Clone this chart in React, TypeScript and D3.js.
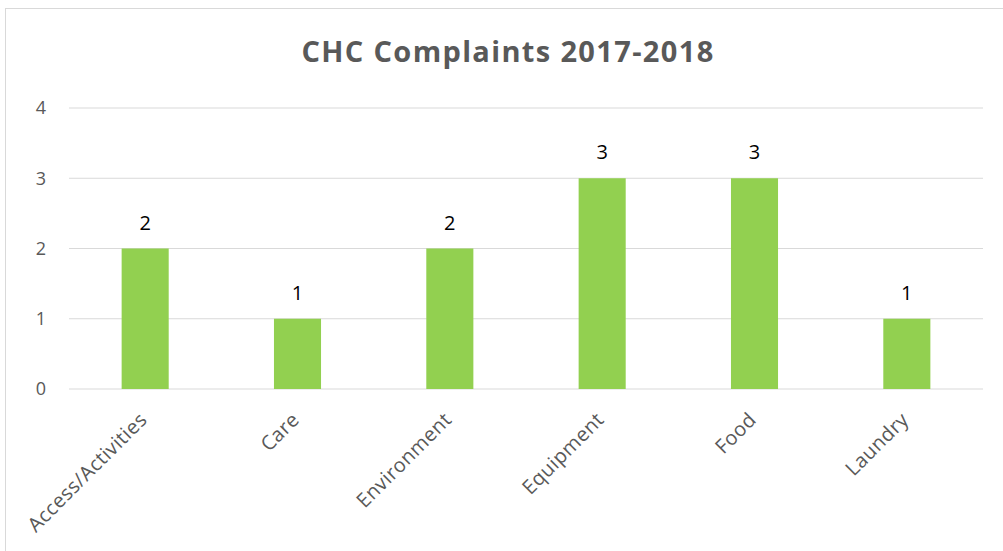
import React from "react";
import * as d3 from "d3";

const categories = ["Access/Activities", "Care", "Environment", "Equipment", "Food", "Laundry"];
const values = [2, 1, 2, 3, 3, 1];
const yTicks = [0, 1, 2, 3, 4];
const title = "CHC Complaints 2017-2018";

export default function App() {
  const W = 1003;
  const H = 551;
  const x = d3
    .scaleBand<string>()
    .domain(categories)
    .range([69, 983])
    .paddingInner(0.691)
    .paddingOuter(0.3455);
  const y = d3.scaleLinear().domain([0, 4]).range([389, 108]);
  const font = "'Open Sans', sans-serif";
  return (
    <div>
      <style>{`body{margin:0}`}</style>
      <svg width={W} height={H} style={{ display: "block" }}>
        <rect x={0} y={0} width={W} height={H} fill="#ffffff" />
        <rect x={5.5} y={8.5} width={1200} height={700} fill="#ffffff" stroke="#d9d9d9" strokeWidth={1} />
        <text
          x={508}
          y={62}
          textAnchor="middle"
          fontFamily={font}
          fontWeight="bold"
          fontSize={29}
          letterSpacing={1.35}
          fill="#595959"
        >
          {title}
        </text>
        {yTicks.map((t) => (
          <g key={t}>
            <line x1={69} x2={983} y1={y(t)} y2={y(t)} stroke="#d9d9d9" strokeWidth={1.2} />
            <text
              x={46}
              y={y(t)}
              dy="0.36em"
              textAnchor="end"
              fontFamily={font}
              fontSize={18}
              fill="#595959"
            >
              {t}
            </text>
          </g>
        ))}
        {categories.map((c, i) => {
          const bx = x(c)!;
          const bw = x.bandwidth();
          const cx = bx + bw / 2;
          return (
            <g key={c}>
              <rect x={bx} y={y(values[i])} width={bw} height={y(0) - y(values[i])} fill="#92D050" />
              <text
                x={cx}
                y={y(values[i]) - 19}
                textAnchor="middle"
                fontFamily={font}
                fontSize={20}
                fill="#000000"
              >
                {values[i]}
              </text>
              <text
                transform={`translate(${cx + 3},${421}) rotate(-45)`}
                textAnchor="end"
                fontFamily={font}
                fontSize={20}
                letterSpacing={0.4}
                fill="#595959"
              >
                {c}
              </text>
            </g>
          );
        })}
      </svg>
    </div>
  );
}
